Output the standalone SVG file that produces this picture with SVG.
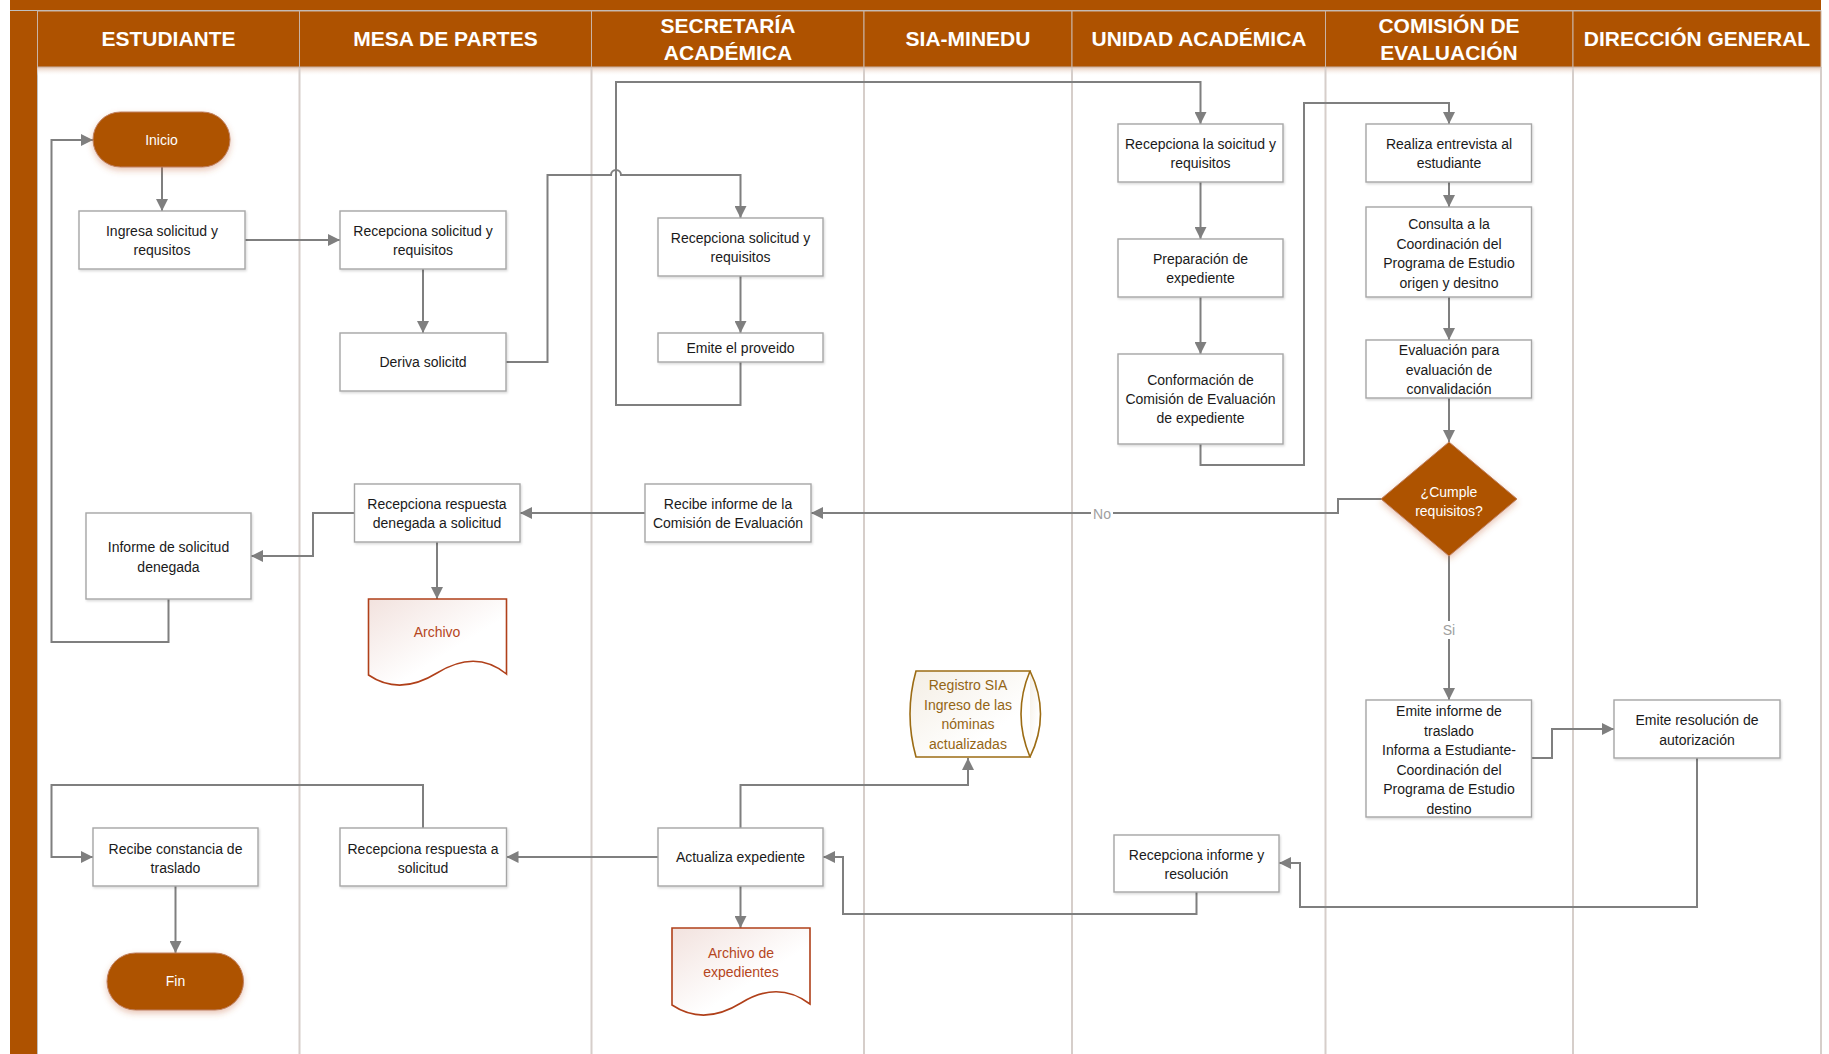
<svg xmlns="http://www.w3.org/2000/svg" width="1829" height="1054" viewBox="0 0 1829 1054">
<style>
  .hdr{fill:#AE5200;stroke:#C9B3A5;stroke-width:1}
  .htx{font-family:"Liberation Sans",Arial,sans-serif;font-weight:bold;font-size:21px;fill:#FFFFFF;text-anchor:middle}
  .lane{stroke:#D6CECA;stroke-width:2;fill:none}
  .box{fill:#FFFFFF;stroke:#A6A6A6;stroke-width:1.4}
  .term{fill:#AE5200;stroke:#C08060;stroke-width:1}
  .tx{font-family:"Liberation Sans",Arial,sans-serif;font-size:14px;fill:#1A1A1A;text-anchor:middle}
  .wt{fill:#FFFFFF}
  .doc{fill:url(#docg);stroke:#B0401A;stroke-width:1.6}
  .doct{fill:#B5461D}
  .sia{fill:url(#siag);stroke:#9C6C14;stroke-width:1.6}
  .siat{fill:#946515}
  .con{fill:none;stroke:#7F7F7F;stroke-width:2}
  .lbl{font-family:"Liberation Sans",Arial,sans-serif;font-size:14px;fill:#A0A0A0;text-anchor:middle}
</style>
<defs>
  <marker id="arr" viewBox="0 0 12 12" refX="12" refY="6" markerWidth="12" markerHeight="12" markerUnits="userSpaceOnUse" orient="auto">
    <path d="M0,0 L12,6 L0,12 z" fill="#7F7F7F"/>
  </marker>
  <filter id="sh" x="-20%" y="-20%" width="140%" height="150%">
    <feDropShadow dx="0" dy="3" stdDeviation="3" flood-color="#C06030" flood-opacity="0.35"/>
  </filter>
  <filter id="bsh" x="-10%" y="-10%" width="120%" height="130%">
    <feDropShadow dx="1" dy="1.5" stdDeviation="1" flood-color="#000000" flood-opacity="0.15"/>
  </filter>
  <linearGradient id="docg" x1="0" y1="0" x2="1" y2="1">
    <stop offset="0" stop-color="#F2E2DE"/>
    <stop offset="0.6" stop-color="#FFFFFF"/>
  </linearGradient>
  <linearGradient id="siag" x1="0" y1="0" x2="1" y2="1">
    <stop offset="0" stop-color="#F4EEE4"/>
    <stop offset="0.7" stop-color="#FFFFFF"/>
  </linearGradient>
  <linearGradient id="hsh" x1="0" y1="0" x2="0" y2="1">
    <stop offset="0" stop-color="#E3C5B4"/>
    <stop offset="1" stop-color="#FFFFFF" stop-opacity="0"/>
  </linearGradient>
</defs>

<rect x="0" y="0" width="1829" height="1054" fill="#FFFFFF"/>

<!-- frame -->
<g id="frame">
  <rect x="10" y="0" width="1811" height="10.5" fill="#AE5200"/>
  <rect x="10" y="0" width="27" height="1054" fill="#AE5200"/>
  <line x1="10" y1="10.5" x2="1821" y2="10.5" stroke="#C0C0C0" stroke-width="1"/>
  <line x1="37.5" y1="11" x2="37.5" y2="1054" stroke="#C0C0C0" stroke-width="1"/>
  <rect x="37" y="67" width="1784" height="9" fill="url(#hsh)"/>
</g>

<!-- lane dividers -->
<g id="lanes">
  <line class="lane" x1="299.5" y1="67" x2="299.5" y2="1054"/>
  <line class="lane" x1="591.5" y1="67" x2="591.5" y2="1054"/>
  <line class="lane" x1="864" y1="67" x2="864" y2="1054"/>
  <line class="lane" x1="1072" y1="67" x2="1072" y2="1054"/>
  <line class="lane" x1="1325.5" y1="67" x2="1325.5" y2="1054"/>
  <line class="lane" x1="1573" y1="67" x2="1573" y2="1054"/>
  <line class="lane" x1="1821" y1="67" x2="1821" y2="1054"/>
</g>

<!-- headers -->
<g id="headers">
  <rect class="hdr" x="37.5" y="11" width="262" height="56"/>
  <rect class="hdr" x="299.5" y="11" width="292" height="56"/>
  <rect class="hdr" x="591.5" y="11" width="272.5" height="56"/>
  <rect class="hdr" x="864" y="11" width="208" height="56"/>
  <rect class="hdr" x="1072" y="11" width="253.5" height="56"/>
  <rect class="hdr" x="1325.5" y="11" width="247.5" height="56"/>
  <rect class="hdr" x="1573" y="11" width="248" height="56"/>
  <text class="htx" x="168.5" y="46">ESTUDIANTE</text>
  <text class="htx" x="445.5" y="46">MESA DE PARTES</text>
  <text class="htx" x="728" y="33">SECRETARÍA</text>
  <text class="htx" x="728" y="60">ACADÉMICA</text>
  <text class="htx" x="968" y="46">SIA-MINEDU</text>
  <text class="htx" x="1199" y="46">UNIDAD ACADÉMICA</text>
  <text class="htx" x="1449" y="33">COMISIÓN DE</text>
  <text class="htx" x="1449" y="60">EVALUACIÓN</text>
  <text class="htx" x="1697" y="46">DIRECCIÓN GENERAL</text>
</g>

<!-- connectors -->
<g id="connectors">
  <path class="con" marker-end="url(#arr)" d="M162,167 V211"/>
  <path class="con" marker-end="url(#arr)" d="M245,240 H340"/>
  <path class="con" marker-end="url(#arr)" d="M423,269 V333"/>
  <path class="con" marker-end="url(#arr)" d="M506,362 H547.5 V175 H611 a5,5 0 0 1 10,0 H740.5 V218"/>
  <path class="con" marker-end="url(#arr)" d="M740.5,276 V333"/>
  <path class="con" marker-end="url(#arr)" d="M740.5,362 V405 H616 V82 H1200.5 V124"/>
  <path class="con" marker-end="url(#arr)" d="M1200.5,182 V239"/>
  <path class="con" marker-end="url(#arr)" d="M1200.5,297 V354"/>
  <path class="con" marker-end="url(#arr)" d="M1200.5,444 V465 H1304 V103 H1449 V124"/>
  <path class="con" marker-end="url(#arr)" d="M1449,182 V207"/>
  <path class="con" marker-end="url(#arr)" d="M1449,297 V340"/>
  <path class="con" marker-end="url(#arr)" d="M1449,398 V442"/>
  <path class="con" marker-end="url(#arr)" d="M1382,499 H1338 V513 H811"/>
  <path class="con" marker-end="url(#arr)" d="M645,513 H520"/>
  <path class="con" marker-end="url(#arr)" d="M354.5,513 H313 V556 H251"/>
  <path class="con" marker-end="url(#arr)" d="M437,542 V599"/>
  <path class="con" marker-end="url(#arr)" d="M168.5,599 V642 H51.5 V140 H93"/>
  <path class="con" marker-end="url(#arr)" d="M1449,556 V700"/>
  <path class="con" marker-end="url(#arr)" d="M1531.5,758 H1552 V729 H1614"/>
  <path class="con" marker-end="url(#arr)" d="M1697,758 V907 H1300 V863 H1279"/>
  <path class="con" marker-end="url(#arr)" d="M1196.5,892 V914 H843 V857 H823"/>
  <path class="con" marker-end="url(#arr)" d="M658,857 H506.5"/>
  <path class="con" marker-end="url(#arr)" d="M423,828 V785 H51.5 V857 H93"/>
  <path class="con" marker-end="url(#arr)" d="M175.5,886 V953"/>
  <path class="con" marker-end="url(#arr)" d="M740.5,828 V785 H968 V758"/>
  <path class="con" marker-end="url(#arr)" d="M740.5,886 V928"/>
  <rect x="1091" y="505" width="22" height="17" fill="#FFFFFF"/>
  <text class="lbl" x="1102" y="519">No</text>
  <rect x="1441" y="621" width="16" height="18" fill="#FFFFFF"/>
  <text class="lbl" x="1449" y="635">Si</text>
</g>

<!-- nodes -->
<g id="n-inicio">
  <rect class="term" x="93" y="112" width="137" height="55" rx="27.5" filter="url(#sh)"/>
  <text class="tx wt" x="161.5" y="144.5">Inicio</text>
</g>
<g id="n-ingresa">
  <rect class="box" x="79" y="211" width="166" height="58" filter="url(#bsh)"/>
  <text class="tx" x="162" y="235.5">Ingresa solicitud y</text>
  <text class="tx" x="162" y="255">requsitos</text>
</g>
<g id="n-mp-recepciona">
  <rect class="box" x="340" y="211" width="166" height="58" filter="url(#bsh)"/>
  <text class="tx" x="423" y="235.5">Recepciona solicitud y</text>
  <text class="tx" x="423" y="255">requisitos</text>
</g>
<g id="n-deriva">
  <rect class="box" x="340" y="333" width="166" height="58" filter="url(#bsh)"/>
  <text class="tx" x="423" y="367">Deriva solicitd</text>
</g>
<g id="n-sa-recepciona">
  <rect class="box" x="658" y="218" width="165" height="58" filter="url(#bsh)"/>
  <text class="tx" x="740.5" y="242.5">Recepciona solicitud y</text>
  <text class="tx" x="740.5" y="262">requisitos</text>
</g>
<g id="n-emite-proveido">
  <rect class="box" x="658" y="333" width="165" height="29" filter="url(#bsh)"/>
  <text class="tx" x="740.5" y="352.5">Emite el proveido</text>
</g>
<g id="n-ua-recepciona">
  <rect class="box" x="1118" y="124" width="165" height="58" filter="url(#bsh)"/>
  <text class="tx" x="1200.5" y="148.5">Recepciona la soicitud y</text>
  <text class="tx" x="1200.5" y="168">requisitos</text>
</g>
<g id="n-preparacion">
  <rect class="box" x="1118" y="239" width="165" height="58" filter="url(#bsh)"/>
  <text class="tx" x="1200.5" y="263.5">Preparación de</text>
  <text class="tx" x="1200.5" y="283">expediente</text>
</g>
<g id="n-conformacion">
  <rect class="box" x="1118" y="354" width="165" height="90" filter="url(#bsh)"/>
  <text class="tx" x="1200.5" y="385">Conformación de</text>
  <text class="tx" x="1200.5" y="404">Comisión de Evaluación</text>
  <text class="tx" x="1200.5" y="423">de expediente</text>
</g>
<g id="n-entrevista">
  <rect class="box" x="1366" y="124" width="165.5" height="58" filter="url(#bsh)"/>
  <text class="tx" x="1449" y="148.5">Realiza entrevista al</text>
  <text class="tx" x="1449" y="168">estudiante</text>
</g>
<g id="n-consulta">
  <rect class="box" x="1366" y="207" width="165.5" height="90" filter="url(#bsh)"/>
  <text class="tx" x="1449" y="229">Consulta a la</text>
  <text class="tx" x="1449" y="248.5">Coordinación del</text>
  <text class="tx" x="1449" y="268">Programa de Estudio</text>
  <text class="tx" x="1449" y="287.5">origen y desitno</text>
</g>
<g id="n-evaluacion">
  <rect class="box" x="1366" y="340" width="165.5" height="58" filter="url(#bsh)"/>
  <text class="tx" x="1449" y="355">Evaluación para</text>
  <text class="tx" x="1449" y="374.5">evaluación de</text>
  <text class="tx" x="1449" y="394">convalidación</text>
</g>
<g id="n-cumple">
  <path class="term" d="M1449,442 L1517,499 L1449,556 L1381,499 Z" filter="url(#sh)"/>
  <text class="tx wt" x="1449" y="497">¿Cumple</text>
  <text class="tx wt" x="1449" y="515.5">requisitos?</text>
</g>
<g id="n-recibe-informe">
  <rect class="box" x="645" y="484" width="166" height="58" filter="url(#bsh)"/>
  <text class="tx" x="728" y="509">Recibe informe de la</text>
  <text class="tx" x="728" y="528">Comisión de Evaluación</text>
</g>
<g id="n-rec-denegada">
  <rect class="box" x="354.5" y="484" width="165.5" height="58" filter="url(#bsh)"/>
  <text class="tx" x="437" y="509">Recepciona respuesta</text>
  <text class="tx" x="437" y="528">denegada a solicitud</text>
</g>
<g id="n-informe-denegada">
  <rect class="box" x="86" y="513" width="165" height="86" filter="url(#bsh)"/>
  <text class="tx" x="168.5" y="552">Informe de solicitud</text>
  <text class="tx" x="168.5" y="571.5">denegada</text>
</g>
<g id="n-archivo">
  <path class="doc" d="M368.5,599 H506.5 V674 C482,654 458,660 437,673 C416,686 392,691 368.5,675 Z"/>
  <text class="tx doct" x="437" y="637">Archivo</text>
</g>
<g id="n-emite-informe">
  <rect class="box" x="1366" y="700" width="165.5" height="117" filter="url(#bsh)"/>
  <text class="tx" x="1449" y="716">Emite informe de</text>
  <text class="tx" x="1449" y="735.5">traslado</text>
  <text class="tx" x="1449" y="755">Informa a Estudiante-</text>
  <text class="tx" x="1449" y="774.5">Coordinación del</text>
  <text class="tx" x="1449" y="794">Programa de Estudio</text>
  <text class="tx" x="1449" y="813.5">destino</text>
</g>
<g id="n-emite-resolucion">
  <rect class="box" x="1614" y="700" width="166" height="58" filter="url(#bsh)"/>
  <text class="tx" x="1697" y="725">Emite resolución de</text>
  <text class="tx" x="1697" y="744.5">autorización</text>
</g>
<g id="n-registro-sia">
  <path class="sia" d="M916,671 H1030 Q1012,714 1030,757 H916 Q904,714 916,671 Z"/>
  <path class="sia" fill="none" d="M1030,671 Q1051,714 1030,757"/>
  <text class="tx siat" x="968" y="690">Registro SIA</text>
  <text class="tx siat" x="968" y="709.5">Ingreso de las</text>
  <text class="tx siat" x="968" y="729">nóminas</text>
  <text class="tx siat" x="968" y="748.5">actualizadas</text>
</g>
<g id="n-rec-informe-resolucion">
  <rect class="box" x="1114" y="835" width="165" height="57" filter="url(#bsh)"/>
  <text class="tx" x="1196.5" y="860">Recepciona informe y</text>
  <text class="tx" x="1196.5" y="879">resolución</text>
</g>
<g id="n-actualiza">
  <rect class="box" x="658" y="828" width="165" height="58" filter="url(#bsh)"/>
  <text class="tx" x="740.5" y="862">Actualiza expediente</text>
</g>
<g id="n-rec-respuesta">
  <rect class="box" x="340" y="828" width="166.5" height="58" filter="url(#bsh)"/>
  <text class="tx" x="423" y="854">Recepciona respuesta a</text>
  <text class="tx" x="423" y="873">solicitud</text>
</g>
<g id="n-recibe-constancia">
  <rect class="box" x="93" y="828" width="165" height="58" filter="url(#bsh)"/>
  <text class="tx" x="175.5" y="854">Recibe constancia de</text>
  <text class="tx" x="175.5" y="873">traslado</text>
</g>
<g id="n-fin">
  <rect class="term" x="107" y="953" width="136.5" height="57" rx="28.5" filter="url(#sh)"/>
  <text class="tx wt" x="175.5" y="986">Fin</text>
</g>
<g id="n-archivo-expedientes">
  <path class="doc" d="M672,928 H810 V1004 C786,986 762,990 741,1003 C720,1016 696,1021 672,1005 Z"/>
  <text class="tx doct" x="741" y="958">Archivo de</text>
  <text class="tx doct" x="741" y="977">expedientes</text>
</g>
</svg>
